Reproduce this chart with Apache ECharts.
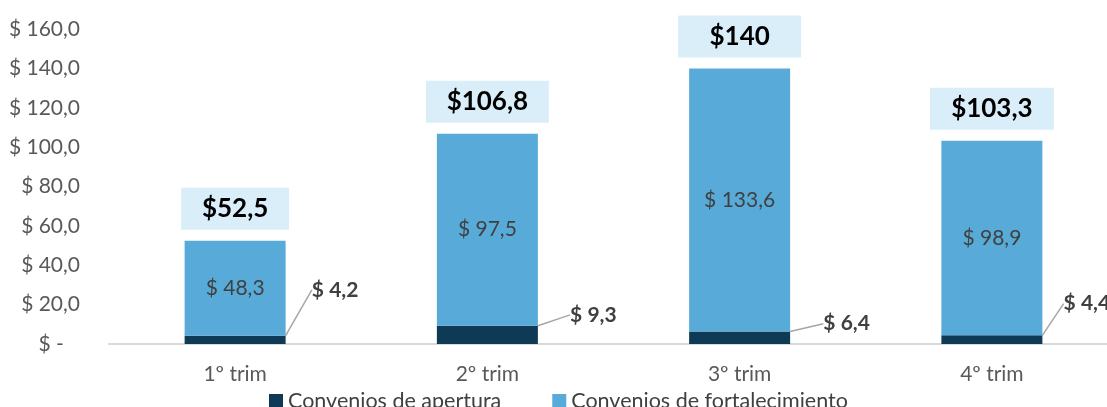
<!DOCTYPE html>
<html>
<head>
<meta charset="utf-8">
<script src="https://cdn.jsdelivr.net/npm/echarts@6/dist/echarts.min.js"></script>
<style>
  html, body { margin: 0; padding: 0; background: #fff; overflow: hidden; }
  /* the plot runs a little past the right edge of the window, as in the original */
  #chart { width: 1120px; height: 407px; }
</style>
</head>
<body>
<div id="chart"></div>
<script>
  // data
  var categories = ['1º trim', '2º trim', '3º trim', '4º trim'];
  var apertura = [4.2, 9.3, 6.4, 4.4];
  var fortalecimiento = [48.3, 97.5, 133.6, 98.9];
  var yTicks = [0, 20, 40, 60, 80, 100, 120, 140, 160];

  // where the small labels of "apertura" sit, relative to the bar segment
  var smallLabelShift = [[100, -50], [106, -20], [107, -14], [95, -36]];
  var totalBoxWidth = [108, 123, 123, 124];

  var FONT = 'Lato';

  function fmt(v) {
    return v.toFixed(1).replace('.', ',');
  }
  function fmtTotal(v) {
    var r = Math.round(v * 10) / 10;
    return r % 1 === 0 ? String(r) : fmt(r);
  }

  var chart = echarts.init(document.getElementById('chart'));

  var option = {
    animation: false,
    grid: { left: 109, right: 2, top: 29, bottom: 63 },
    xAxis: {
      type: 'category',
      data: categories,
      axisLine: { lineStyle: { color: '#d9d9d9', width: 2 } },
      axisTick: { show: false },
      axisLabel: { color: '#595959', fontSize: 21, fontFamily: FONT, margin: 20 }
    },
    yAxis: {
      type: 'value',
      min: yTicks[0],
      max: yTicks[yTicks.length - 1],
      interval: 20,
      splitLine: { show: false },
      axisLine: { show: false },
      axisTick: { show: false },
      axisLabel: {
        color: '#595959', fontSize: 21, fontFamily: FONT, margin: 29,
        formatter: function (v) { return v === 0 ? '$ -   ' : '$ ' + fmt(v); }
      }
    },
    legend: {
      bottom: -10,
      left: 264,
      itemWidth: 14,
      itemHeight: 14,
      itemGap: 51,
      icon: 'rect',
      textStyle: { color: '#404040', fontSize: 21.5, fontFamily: FONT },
      data: ['Convenios de apertura', 'Convenios de fortalecimiento']
    },
    series: [
      {
        name: 'Convenios de apertura',
        type: 'bar',
        stack: 'total',
        barWidth: 101,
        data: apertura,
        itemStyle: { color: '#0e3a55' },
        label: {
          show: true,
          position: 'inside',
          color: '#404040',
          fontSize: 21,
          fontWeight: 'bold',
          fontFamily: FONT,
          formatter: function (p) { return '$ ' + fmt(p.value); }
        },
        labelLine: { show: true, lineStyle: { color: '#a6a6a6', width: 1.5 } },
        labelLayout: function (p) {
          var s = smallLabelShift[p.dataIndex];
          return { dx: s[0], dy: s[1] };
        }
      },
      {
        name: 'Convenios de fortalecimiento',
        type: 'bar',
        stack: 'total',
        barWidth: 101,
        data: fortalecimiento,
        itemStyle: { color: '#58abd8' },
        label: {
          show: true,
          position: 'inside',
          color: '#404040',
          fontSize: 21,
          fontFamily: FONT,
          formatter: function (p) { return '$ ' + fmt(p.value); }
        }
      },
      {
        // invisible carrier for the total labels
        name: 'total',
        type: 'bar',
        stack: 'total',
        barWidth: 101,
        data: fortalecimiento.map(function () { return 0; }),
        itemStyle: { color: 'transparent' },
        label: {
          show: true,
          position: 'top',
          distance: 11,
          color: '#000',
          fontSize: 26,
          fontWeight: 'bold',
          fontFamily: FONT,
          backgroundColor: '#daeefa',
          padding: [8, 0, 8, 0],
          align: 'center',
          formatter: function (p) {
            return '$' + fmtTotal(apertura[p.dataIndex] + fortalecimiento[p.dataIndex]);
          }
        },
        tooltip: { show: false }
      }
    ]
  };

  option.series[2].data = option.series[2].data.map(function (v, i) {
    return { value: v, label: { width: totalBoxWidth[i] } };
  });

  chart.setOption(option);
</script>
</body>
</html>
